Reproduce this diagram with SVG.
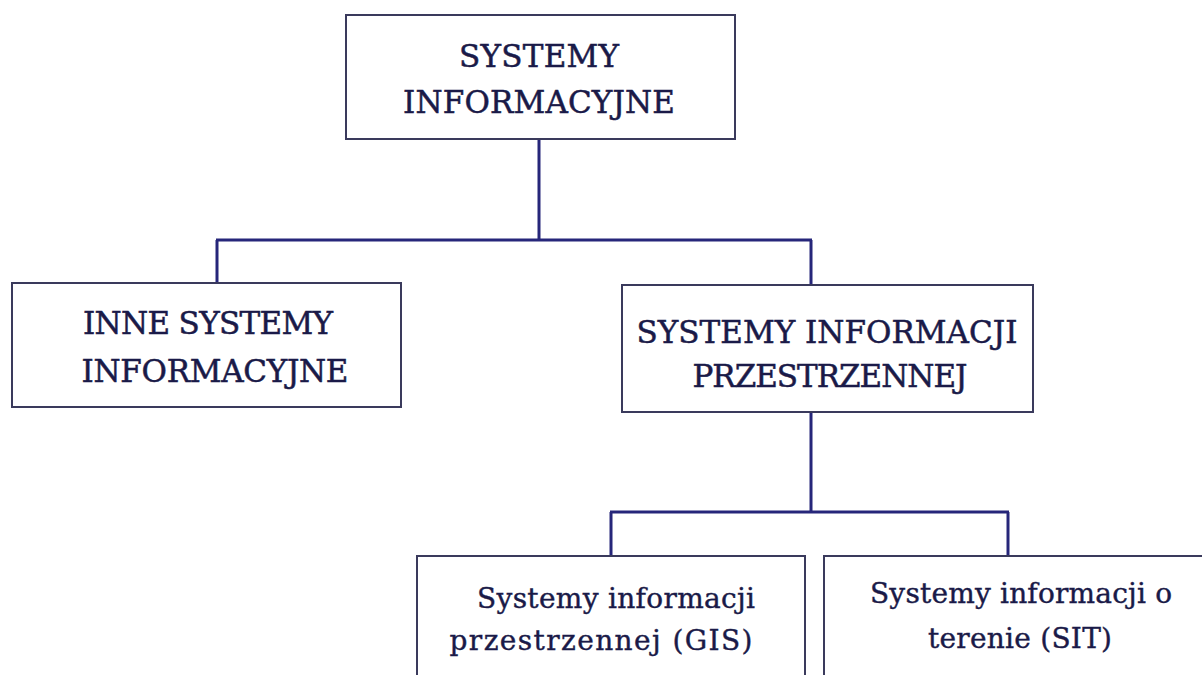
<svg xmlns="http://www.w3.org/2000/svg" width="1202" height="675" viewBox="0 0 1202 675">
<style>
.box{fill:#ffffff;stroke:#3a3a5c;stroke-width:2}
.cap{font-family:"DejaVu Serif","Liberation Serif",serif;font-size:31px;fill:#1a1a48;stroke:#1a1a48;stroke-width:0.5;text-anchor:middle}
.low{font-family:"DejaVu Serif","Liberation Serif",serif;font-size:28px;fill:#1a1a48;stroke:#1a1a48;stroke-width:0.4;text-anchor:middle}
.con{fill:none;stroke:#26267a;stroke-width:3}
</style>
<rect width="1202" height="675" fill="#ffffff"/>
<g id="connectors">
<path class="con" d="M539,139 V240 M216,240 H812 M217,240 V283 M811,240 V285"/>
<path class="con" d="M811,412 V512 M610,512 H1009 M611,512 V556"/>
<path class="con" d="M1008,512 V556" stroke-width="4"/>
</g>
<g id="node-root">
<rect class="box" x="346" y="15" width="389" height="124"/>
<text class="cap" x="539" y="67" textLength="160">SYSTEMY</text>
<text class="cap" x="539" y="113" textLength="272">INFORMACYJNE</text>
</g>
<g id="node-inne">
<rect class="box" x="12" y="283" width="389" height="124"/>
<text class="cap" x="208" y="334" textLength="250">INNE SYSTEMY</text>
<text class="cap" x="215" y="382" textLength="267">INFORMACYJNE</text>
</g>
<g id="node-sip">
<rect class="box" x="622" y="285" width="411" height="127"/>
<text class="cap" x="827" y="343" textLength="381">SYSTEMY INFORMACJI</text>
<text class="cap" x="830" y="387" textLength="275">PRZESTRZENNEJ</text>
</g>
<g id="node-gis">
<rect class="box" x="417" y="556" width="388" height="140"/>
<text class="low" x="616" y="608" textLength="278">Systemy informacji</text>
<text class="low" x="601" y="650" textLength="303">przestrzennej (GIS)</text>
</g>
<g id="node-sit">
<rect class="box" x="824" y="556" width="400" height="140"/>
<text class="low" x="1021" y="603" textLength="302">Systemy informacji o</text>
<text class="low" x="1020" y="648" textLength="184">terenie (SIT)</text>
</g>
</svg>
